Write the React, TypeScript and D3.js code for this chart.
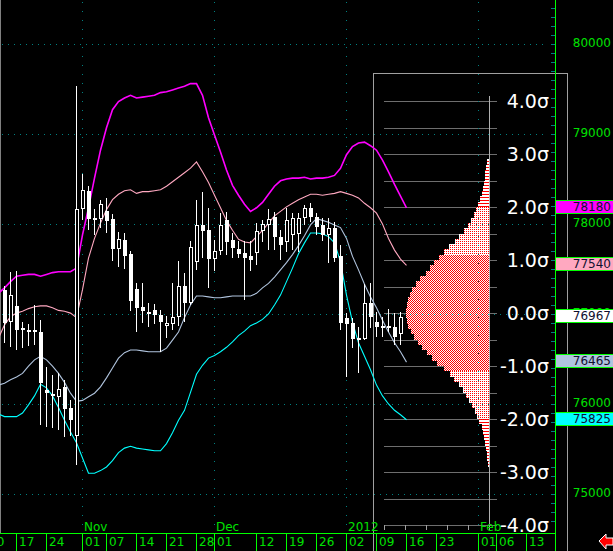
import React from "react";
import * as d3 from "d3";

// ---------- DATA ----------
const originDate = "2011-10-10"; // trading-day index 0 of the time axis
const candleStartDate = "2011-10-13";
const bandStartDate = "2011-10-12";

const opens = [77265, 76910, 77090, 76845, 76820, 76820, 76800, 76155, 76110, 76080, 76190, 75955, 75645, 78165, 78365, 78065, 78055, 78145, 78055, 77720, 77820, 77665, 77280, 77080, 77020, 77045, 76990, 76865, 76890, 76965, 77310, 77120, 77580, 77990, 77935, 77610, 77700, 78045, 77820, 77720, 77680, 77645, 77680, 77920, 77990, 78080, 77855, 77800, 77880, 77890, 78065, 78180, 78080, 77990, 77880, 77955, 77645, 76955, 76900, 76735, 76720, 77120, 76910, 76865, 76865, 76855, 76780];
const highs = [77310, 77465, 77480, 76910, 76890, 77100, 76935, 76410, 76320, 76345, 76265, 76045, 79535, 78555, 78420, 78165, 78265, 78290, 78110, 77910, 77900, 77700, 77345, 77345, 77120, 77110, 77045, 76980, 77345, 77590, 77460, 77810, 78265, 78355, 78180, 77820, 78120, 78135, 77900, 77810, 77810, 77810, 78010, 78045, 78165, 78135, 77935, 78180, 78120, 78120, 78210, 78235, 78120, 78065, 78065, 78020, 77765, 77010, 76955, 76855, 77335, 77345, 77020, 76965, 77055, 77010, 77020];
const lows = [76680, 76635, 76600, 76620, 76645, 76655, 75765, 75745, 75735, 75710, 75635, 75645, 75320, 78045, 77935, 77880, 77955, 77900, 77590, 77520, 77500, 77035, 76800, 76900, 76855, 76890, 76580, 76735, 76820, 76865, 76910, 77100, 77490, 77620, 77290, 77480, 77655, 77655, 77620, 77620, 77155, 77480, 77545, 77800, 77710, 77710, 77600, 77690, 77710, 77690, 77990, 78020, 77880, 77810, 77565, 77580, 76820, 76300, 76620, 76345, 76710, 76845, 76745, 76745, 76800, 76655, 76655];
const closes = [76900, 77210, 76820, 76820, 76800, 76800, 76235, 76120, 76090, 76165, 75945, 75820, 78165, 78380, 78055, 78045, 78220, 78035, 77720, 77835, 77645, 77145, 77065, 77035, 77000, 76990, 76910, 76900, 76965, 77310, 77120, 77745, 77990, 77920, 77610, 77700, 77990, 77800, 77735, 77665, 77620, 77600, 77920, 78000, 78055, 77855, 77765, 78045, 78065, 78065, 78180, 78080, 77965, 77880, 77955, 77620, 76900, 76890, 76720, 76710, 77120, 76965, 76855, 76845, 76845, 76745, 76965];

const upper2 = [77230, 77290, 77360, 77420, 77430, 77440, 77440, 77420, 77440, 77460, 77470, 77470, 77470, 77510, 77880, 78180, 78510, 78820, 79070, 79270, 79360, 79400, 79430, 79400, 79410, 79420, 79430, 79460, 79470, 79490, 79510, 79530, 79560, 79560, 79430, 79180, 78990, 78800, 78600, 78430, 78320, 78220, 78140, 78180, 78240, 78330, 78420, 78480, 78500, 78510, 78510, 78520, 78500, 78510, 78510, 78520, 78540, 78620, 78770, 78860, 78900, 78910, 78870, 78820, 78710, 78580, 78440, 78310, 78180];
const upper1 = [76730, 76880, 76970, 77010, 77030, 77060, 77080, 77090, 77090, 77070, 77040, 77030, 77010, 76960, 77270, 77620, 77840, 78010, 78160, 78270, 78330, 78370, 78380, 78340, 78360, 78360, 78370, 78380, 78420, 78470, 78520, 78570, 78620, 78690, 78580, 78460, 78320, 78180, 78040, 77930, 77830, 77800, 77790, 77860, 77930, 78010, 78090, 78140, 78190, 78230, 78270, 78300, 78330, 78330, 78320, 78330, 78340, 78360, 78340, 78320, 78290, 78230, 78180, 78120, 78000, 77840, 77710, 77610, 77540];
const lower1 = [76210, 76230, 76270, 76300, 76340, 76420, 76490, 76530, 76490, 76420, 76340, 76240, 76120, 76030, 76040, 76080, 76120, 76190, 76290, 76400, 76510, 76570, 76600, 76600, 76590, 76580, 76580, 76580, 76620, 76710, 76800, 76960, 77100, 77200, 77200, 77190, 77180, 77180, 77190, 77200, 77200, 77200, 77200, 77230, 77290, 77340, 77410, 77490, 77570, 77660, 77760, 77870, 77990, 78060, 78040, 78020, 77990, 77960, 77840, 77640, 77490, 77330, 77190, 77070, 76930, 76800, 76680, 76580, 76465];
const lower2 = [75890, 75860, 75860, 75860, 75900, 75990, 76090, 76220, 76180, 76090, 75960, 75820, 75690, 75570, 75400, 75230, 75230, 75260, 75300, 75370, 75460, 75510, 75530, 75510, 75500, 75490, 75480, 75480, 75560, 75680, 75820, 75930, 76130, 76330, 76430, 76510, 76540, 76580, 76630, 76690, 76760, 76810, 76870, 76900, 76940, 77000, 77100, 77210, 77360, 77510, 77670, 77790, 77900, 77900, 77890, 77860, 77790, 77580, 77210, 76910, 76680, 76530, 76380, 76210, 76090, 76000, 75930, 75880, 75825];
const lastPrice = 76967;

const priceTicks = [75000, 76000, 77000, 78000, 79000, 80000];
const dayTickDates = ["2011-10-10", "2011-10-17", "2011-10-24", "2011-11-01", "2011-11-07", "2011-11-14", "2011-11-21", "2011-11-28", "2011-12-01", "2011-12-12", "2011-12-19", "2011-12-26", "2012-01-02", "2012-01-09", "2012-01-16", "2012-01-23", "2012-02-01", "2012-02-06", "2012-02-13"];
const dayTickLabels = ["10", "17", "24", "01", "07", "14", "21", "28", "01", "12", "19", "26", "02", "09", "16", "23", "01", "06", "13"];
const monthDates = ["2011-11-01", "2011-12-01", "2012-01-02", "2012-02-01"];
const monthLabels = ["Nov", "Dec", "2012", "Feb"];

const sigmaLevels = [4, 3, 2, 1, 0, -1, -2, -3, -4];
const sigmaGrid = [4, 3.5, 3, 2.5, 2, 1.5, 1, 0.5, 0, -0.5, -1, -1.5, -2, -2.5, -3, -3.5, -4];
const histTopSigma = 2.9;
const histBinSigma = 0.1;
const histFreq = [0.10, 0.12, 0.17, 0.19, 0.24, 0.29, 0.33, 0.43, 0.52, 0.62, 0.71, 0.86, 1.00, 1.19, 1.43, 1.62, 1.90, 2.14, 2.38, 2.62, 2.81, 3.00, 3.29, 3.48, 3.67, 3.76, 3.86, 3.90, 3.95, 3.95, 3.90, 3.86, 3.71, 3.57, 3.38, 3.19, 2.95, 2.71, 2.48, 2.14, 1.86, 1.67, 1.43, 1.24, 1.10, 0.95, 0.81, 0.67, 0.57, 0.48, 0.33, 0.29, 0.24, 0.19, 0.14, 0.10, 0.10, 0.07];

// ---------- HELPERS ----------
const parse = d3.timeParse("%Y-%m-%d");
const origin = parse(originDate) as Date;
const tIdx = (s: string) =>
  d3.timeDay.range(origin, parse(s) as Date).filter((d) => d.getDay() % 6 !== 0).length;

const W = 613;
const H = 551;
const AXIS_X = 555;
const AXIS_Y = 533;
const FONT = "'DejaVu Sans', Verdana, sans-serif";
const SIG_FONT = "'DejaVu Sans', Verdana, sans-serif";
const GREEN = "#00ff00";
const TEXT_GREEN = "#00e000";
const TEAL = "#008080";

export default function App() {
  const x = d3.scaleLinear().domain([0, 90]).range([-13.5, 526.5]);
  const y = d3.scaleLinear().domain([75000, 80000]).range([494, 44]);
  const sy = d3.scaleLinear().domain([-4, 4]).range([525, 101]);
  const hx = d3.scaleLinear().domain([0, 5]).range([489, 384]);
  const cr = (v: number) => Math.round(v) + 0.5;

  const c0 = tIdx(candleStartDate);
  const b0 = tIdx(bandStartDate);

  const bandLine = d3
    .line<number>()
    .x((_, k) => x(b0 + k))
    .y((v) => y(v));

  const bands = [
    { data: upper2, color: "#ff00ff", w: 1.6 },
    { data: upper1, color: "#ffa8c0", w: 1.1 },
    { data: lower1, color: "#b0c4de", w: 1.1 },
    { data: lower2, color: "#00ffff", w: 1.1 },
  ];

  const boxes = [
    { v: upper2[upper2.length - 1], fill: "#ff00ff" },
    { v: upper1[upper1.length - 1], fill: "#ffa8c0" },
    { v: lastPrice, fill: "#ffffff" },
    { v: lower1[lower1.length - 1], fill: "#b0c4de" },
    { v: lower2[lower2.length - 1], fill: "#00ffff" },
  ];

  const minorTicks = d3.range(74700, 80600, 100);

  return (
    <svg
      width={W}
      height={H}
      viewBox={`0 0 ${W} ${H}`}
      style={{ position: "fixed", left: 0, top: 0, background: "#000", display: "block" }}
    >
      <defs>
        <clipPath id="plot">
          <rect x={0} y={0} width={AXIS_X} height={AXIS_Y} />
        </clipPath>
        <pattern id="pRed" width={2} height={2} patternUnits="userSpaceOnUse">
          <rect width={2} height={2} fill="#ffffff" />
          <rect x={0} y={0} width={1} height={1} fill="#ff0000" />
          <rect x={1} y={1} width={1} height={1} fill="#ff0000" />
        </pattern>
        <pattern id="pDot" width={2} height={2} patternUnits="userSpaceOnUse">
          <rect width={2} height={2} fill="#ffffff" />
          <rect x={0} y={1} width={1} height={1} fill="#ff0000" />
        </pattern>
        <pattern id="pStripe" width={3} height={3} patternUnits="userSpaceOnUse">
          <rect width={3} height={3} fill="#ffffff" />
          <rect x={0} y={2} width={3} height={1} fill="#ff0000" />
        </pattern>
      </defs>

      <rect x={0} y={0} width={W} height={H} fill="#000" />

      {/* histogram box */}
      <rect x={373.5} y={73.5} width={194} height={490} fill="none" stroke="#a0a0a0" />

      {/* sigma grid lines */}
      {sigmaGrid.map((s) => (
        <line key={"sg" + s} x1={384} x2={497} y1={cr(sy(s))} y2={cr(sy(s))} stroke="#6e6e6e" />
      ))}

      {/* histogram */}
      <g shapeRendering="crispEdges">
        {histFreq.map((f, k) => {
          const hi = histTopSigma - k * histBinSigma;
          const lo = hi - histBinSigma;
          const mid = (hi + lo) / 2;
          const fill = Math.abs(mid) <= 1.06 ? "url(#pRed)" : Math.abs(mid) <= 2.0 ? "url(#pDot)" : "url(#pStripe)";
          const y1 = Math.round(sy(hi));
          const y2 = Math.round(sy(lo));
          return (
            <rect key={"h" + k} x={Math.round(hx(f))} y={y1} width={489 - Math.round(hx(f))} height={y2 - y1} fill={fill} />
          );
        })}
      </g>

      {/* sigma vertical axis + ruler ticks */}
      <line x1={489.5} x2={489.5} y1={96} y2={527} stroke="#b0b0b0" />
      {[0, 1, 2, 3, 4, 5].map((c) => (
        <line key={"rt" + c} x1={cr(hx(c))} x2={cr(hx(c))} y1={525} y2={530} stroke="#a0a0a0" />
      ))}

      {/* grid */}
      <g stroke={TEAL}>
        {priceTicks.map((v) => (
          <line key={"gy" + v} x1={2} x2={548} y1={cr(y(v))} y2={cr(y(v))} strokeDasharray="1 5" />
        ))}
        {monthDates.map((d) => (
          <line key={"gx" + d} x1={cr(x(tIdx(d)) - 0.5)} x2={cr(x(tIdx(d)) - 0.5)} y1={2} y2={AXIS_Y} strokeDasharray="1 8" />
        ))}
      </g>

      {/* left border */}
      <line x1={0.5} x2={0.5} y1={0} y2={AXIS_Y} stroke="#808080" />

      <g clipPath="url(#plot)">
        {/* bands */}
        {bands.map((b, k) => (
          <path key={"b" + k} d={bandLine(b.data) || ""} fill="none" stroke={b.color} strokeWidth={b.w} />
        ))}

        {/* candles */}
        <g shapeRendering="crispEdges">
          {opens.map((o, k) => {
            const cx = x(c0 + k);
            const c = closes[k];
            const up = c > o;
            const top = Math.round(y(Math.max(o, c)));
            const bot = Math.round(y(Math.min(o, c)));
            const hgt = Math.max(bot - top, 1);
            return (
              <g key={"c" + k}>
                <line x1={cx} x2={cx} y1={Math.round(y(highs[k]))} y2={Math.round(y(lows[k]))} stroke="#fff" />
                {up ? (
                  <rect x={cx - 1} y={top + 0.5} width={3} height={Math.max(hgt - 1, 1)} fill="#000" stroke="#fff" />
                ) : (
                  <rect x={cx - 1.5} y={top} width={4} height={hgt} fill="#fff" />
                )}
              </g>
            );
          })}
        </g>
      </g>

      {/* price axis */}
      <line x1={AXIS_X + 0.5} x2={AXIS_X + 0.5} y1={0} y2={H} stroke={GREEN} />
      {minorTicks.map((v) => (
        <line key={"mt" + v} x1={551} x2={555} y1={cr(y(v))} y2={cr(y(v))} stroke={TEAL} />
      ))}
      {priceTicks.map((v) => (
        <text key={"pl" + v} x={611} y={y(v) - 1} textAnchor="end" dominantBaseline="central" fill={TEXT_GREEN} fontFamily={FONT} fontSize={12}>
          {v}
        </text>
      ))}
      {boxes.map((b) => (
        <g key={"bx" + b.v}>
          <rect x={AXIS_X + 0.5} y={Math.round(y(b.v)) - 7.5} width={60} height={13} fill={b.fill} stroke={GREEN} />
          <text x={611} y={Math.round(y(b.v)) - 1} textAnchor="end" dominantBaseline="central" fill="#101030" fontFamily={FONT} fontSize={12}>
            {b.v}
          </text>
        </g>
      ))}

      {/* time axis */}
      <line x1={0} x2={AXIS_X} y1={AXIS_Y + 0.5} y2={AXIS_Y + 0.5} stroke={GREEN} />
      {dayTickDates.map((d, k) => {
        const tx = Math.round(x(tIdx(d)) - 0.5) + 0.5;
        return (
          <g key={"dt" + d}>
            <line x1={tx} x2={tx} y1={AXIS_Y} y2={H} stroke={GREEN} />
            <text x={tx + 2.5} y={546} fill={TEXT_GREEN} fontFamily={FONT} fontSize={12}>
              {dayTickLabels[k]}
            </text>
          </g>
        );
      })}
      {monthDates.map((d, k) => (
        <text key={"mo" + d} x={x(tIdx(d)) + 1.5} y={531} fill={TEXT_GREEN} fontFamily={FONT} fontSize={12}>
          {monthLabels[k]}
        </text>
      ))}

      {/* sigma labels */}
      {sigmaLevels.map((s) => (
        <text key={"sl" + s} x={549} y={sy(s)} textAnchor="end" dominantBaseline="central" fill="#ffffff" fontFamily={SIG_FONT} fontSize={19}>
          {s.toFixed(1) + "σ"}
        </text>
      ))}

      {/* red arrow */}
      <polygon
        points="599,541 606,534 606,538 613,538 613,545 606,545 606,549"
        fill="#ff0000"
        stroke="#ffffff"
        strokeWidth={1}
      />
    </svg>
  );
}
